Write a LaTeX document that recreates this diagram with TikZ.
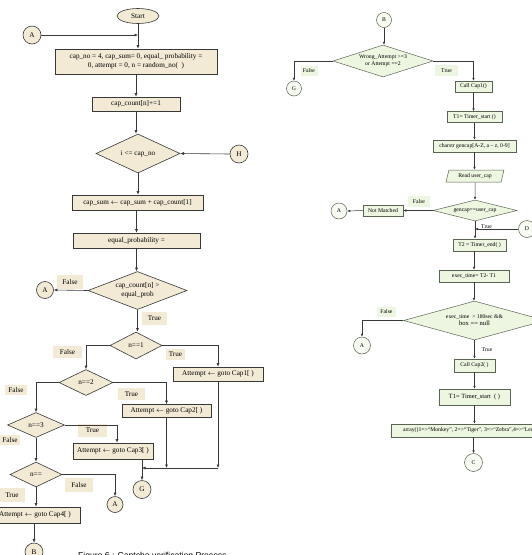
\documentclass[tikz,border=0pt]{standalone}
\usepackage{fontspec}
\setmainfont{Liberation Serif}
\newfontfamily\capfont{Liberation Sans}
\usetikzlibrary{shapes.geometric,arrows.meta,shadows}
\definecolor{beige}{HTML}{F2EAD5}
\definecolor{lgreen}{HTML}{EDF6E1}
\definecolor{lline}{HTML}{383838}
\definecolor{rline}{HTML}{5A6454}
\begin{document}
\begin{tikzpicture}[x=1pt,y=-1pt,
  lf/.style={font=\fontsize{7.2}{8.6}\selectfont},
  rf/.style={font=\fontsize{5.7}{6.8}\selectfont},
  lbox/.style={rectangle, draw=lline, fill=beige, line width=0.6pt, inner sep=0pt, lf, align=center,
     drop shadow={shadow xshift=0.9pt, shadow yshift=-0.9pt, fill=lline, opacity=1}},
  ldia/.style={diamond, draw=lline, fill=beige, line width=0.6pt, inner sep=0pt, lf, align=center},
  lcirc/.style={circle, draw=lline, fill=beige, line width=0.6pt, inner sep=0pt, lf},
  llab/.style={fill=beige, inner sep=0pt, lf},
  larr/.style={draw=lline, line width=0.6pt, -{Latex[length=3.5pt,width=3pt]}},
  rbox/.style={rectangle, draw=rline, fill=lgreen, line width=0.5pt, inner sep=0pt, rf, align=center},
  rdia/.style={diamond, draw=rline, fill=lgreen, line width=0.5pt, inner sep=0pt, rf, align=center},
  rcirc/.style={circle, draw=rline, fill=lgreen!50, line width=0.5pt, inner sep=0pt, rf},
  rlab/.style={fill=lgreen, inner sep=0pt, rf},
  rarr/.style={draw=lline, line width=0.5pt, -{Latex[length=3pt,width=2.6pt]}}
]
\useasboundingbox (0,0) rectangle (532,555);
\clip (0,0) rectangle (532,555);

% ---------------- left flowchart ----------------
\node[ellipse, draw=lline, fill=beige, line width=0.6pt, inner sep=0pt, minimum width=42pt, minimum height=15pt, lf] (start) at (138,16) {Start};
\node[lcirc, minimum size=18pt] (A1) at (32,35) {A};
\node[lbox, minimum width=162pt, minimum height=25pt] (b1) at (136,61.5) {cap\_no = 4, cap\_sum= 0, equal\_ probability =\\0, attempt = 0, n = random\_no(\ \ )};
\node[lbox, minimum width=88pt, minimum height=14pt] (b2) at (136,104) {cap\_count[n]+=1};
\node[ldia, minimum width=84pt, minimum height=39pt, aspect=2.1] (d1) at (138,153.5) {i <= cap\_no};
\node[lcirc, minimum size=18pt] (H) at (239,154) {H};
\node[lbox, minimum width=131pt, minimum height=15pt] (b3) at (137.5,202.5) {cap\_sum $\leftarrow$ cap\_sum + cap\_count[1]};
\node[lbox, minimum width=127pt, minimum height=15pt] (b4) at (136.5,240.5) {equal\_probability =};
\node[ldia, minimum width=99pt, minimum height=38pt, aspect=2.6] (d2) at (137.5,290.5) {cap\_count[n] >\\equal\_prob};
\node[lcirc, minimum size=17pt] (A2) at (45,290) {A};
\node[ldia, minimum width=52pt, minimum height=27pt, aspect=1.9] (d3) at (136,345.5) {n==1};
\node[lbox, minimum width=90pt, minimum height=14pt] (c1) at (218,374) {Attempt $\leftarrow$ goto Cap1[ )};
\node[ldia, minimum width=54pt, minimum height=26pt, aspect=2.1] (d4) at (86,382.5) {n==2};
\node[lbox, minimum width=89pt, minimum height=13pt] (c2) at (166.5,411) {Attempt $\leftarrow$ goto Cap2[ )};
\node[ldia, minimum width=57pt, minimum height=25pt, aspect=2.3] (d5) at (36,425) {n==3};
\node[lbox, minimum width=80pt, minimum height=16pt] (c3) at (113,451) {Attempt $\leftarrow$ goto Cap3[ )};
\node[ldia, minimum width=52pt, minimum height=25pt, aspect=2.1] (d6) at (36,474.5) {n==};
\node[lcirc, minimum size=16pt] (A3) at (115,504.5) {A};
\node[lbox, minimum width=90pt, minimum height=16pt] (c4) at (35,515) {Attempt $\leftarrow$ goto Cap4[ )};
\node[lcirc, minimum size=18pt] (Bc) at (34,552) {B};
\node[lcirc, minimum size=18pt] (G) at (142,489.5) {G};

% labels
\node[llab, minimum width=26pt, minimum height=14pt] (lF1) at (70,282) {False};
\node[llab, minimum width=25pt, minimum height=13pt] (lT1) at (154.5,318.5) {True};
\node[llab, minimum width=29pt, minimum height=12pt] (lF2) at (67.5,352) {False};
\node[llab, minimum width=19pt, minimum height=11pt] (lT2) at (175.5,354.5) {True};
\node[llab, minimum width=22pt, minimum height=10pt] (lF3) at (16,390) {False};
\node[llab, minimum width=27pt, minimum height=12pt] (lT3) at (131.5,394) {True};
\node[llab, minimum width=29pt, minimum height=13pt] (lT4) at (92.5,430.5) {True};
\node[llab, minimum width=20pt, minimum height=10pt] (lF4) at (10,440) {False};
\node[llab, minimum width=28pt, minimum height=14pt] (lF5) at (79,485) {False};
\node[llab, minimum width=25pt, minimum height=14pt] (lT5) at (12,495) {True};

% left connectors
\draw[larr] (A1.east) -- (A1.east -| start.south);
\draw[larr] (start.south) -- (b1.north -| start.south);
\draw[larr] (b1.south) -- (b2.north);
\draw[larr] (b2.south) -- (d1.north -| b2.south);
\draw[larr] (H.west) -- (d1.east);
\draw[larr] (d1.south) -- (b3.north -| d1.south);
\draw[larr] (b3.south -| b4.north) -- (b4.north);
\draw[larr] (b4.south) -- (d2.north -| b4.south);
\draw[larr] (d2.west) -- (A2.east);
\draw[larr] (d2.south) -- (d3.north -| d2.south);
\draw[larr] (d3.west) -| (d4.north);
\draw[larr] (d3.east) -| (c1.north);
\draw[larr] (d4.west) -| (d5.north);
\draw[larr] (d4.east) -| (c2.north);
\draw[larr] (d5.east) -| ([xshift=4pt]c3.north);
\draw[larr] (d5.south) -- (d6.north);
\draw[larr] (d6.east) -| (A3.north);
\draw[larr] (d6.south) -- (c4.north -| d6.south);
\draw[larr] (c4.south -| Bc.north) -- (Bc.north);
\coordinate (j1) at (218,468);
\coordinate (j2) at (166.5,468);
\coordinate (j3) at (142,468);
\draw[larr] (c1.south) -- (j1);
\draw[larr] (c2.south) -- (j2);
\draw[larr] (j1) -- (j3);
\draw[larr] (c3.south -| G.north) -- (G.north);

% ---------------- right flowchart ----------------
\node[rcirc, minimum size=15pt] (Bt) at (384,20) {B};
\node[rdia, minimum width=100pt, minimum height=32pt, aspect=3.1] (rd1) at (383,61) {Wrong\_Attempt >=3\\or Attempt ==2};
\node[rcirc, minimum size=15pt] (Gr) at (294,88.5) {G};
\node[rbox, minimum width=37pt, minimum height=11pt] (r1) at (473.5,86.5) {Call Cap1()};
\node[rbox, minimum width=55pt, minimum height=11pt] (r2) at (474.5,117) {T1= Timer\_start ()};
\node[rbox, minimum width=83pt, minimum height=12pt] (r3) at (474.5,146) {charstr gencap[A-Z, a – z, 0-9]};
\node[trapezium, trapezium left angle=70, trapezium right angle=110, trapezium stretches=true, draw=rline, fill=lgreen, line width=0.5pt, inner sep=0pt, rf, minimum width=58pt, minimum height=12pt] (r4) at (475,176) {Read user\_cap};
\node[rdia, minimum width=84pt, minimum height=21pt, aspect=4] (rd2) at (475,210.5) {gencap==user\_cap};
\node[rbox, minimum width=40pt, minimum height=11pt] (nm) at (383,210.5) {Not Matched};
\node[rcirc, minimum size=16pt] (Ar1) at (339,211) {A};
\node[rcirc, minimum size=17pt] (D) at (527,229) {D};
\node[rbox, minimum width=53pt, minimum height=12pt] (r5) at (479.5,245) {T2 = Timer\_end( )};
\node[rbox, minimum width=70pt, minimum height=12pt] (r6) at (474,276) {exec\_time= T2- T1};
\node[rdia, minimum width=142pt, minimum height=39pt, aspect=3.6] (rd3) at (474.5,320.5) {exec\_time\ \ > 180sec \&\&\\{\fontsize{6.6}{7.2}\selectfont box == null}};
\node[rcirc, minimum size=17pt] (Ar2) at (362,345.5) {A};
\node[rbox, minimum width=41pt, minimum height=13pt] (r7) at (474.5,365.5) {Call Cap2( )};
\node[rbox, minimum width=71pt, minimum height=16pt, font=\fontsize{6.4}{7}\selectfont] (r8) at (474.5,397) {T1= Timer\_start\ \ ( )};
\node[rbox, minimum width=166pt, minimum height=13pt] (r9) at (474,430.5) {\makebox[142pt][l]{array()1=>“Monkey”, 2=>“Tiger”, 3=>“Zebra”,4=>“Leo}};
\node[rcirc, minimum size=18pt] (C) at (473.5,462.5) {C};

% right labels
\node[rlab, minimum width=17pt, minimum height=10pt] (rF1) at (309,71) {False};
\node[rlab, minimum width=23pt, minimum height=11pt] (rT1) at (446.5,70.5) {True};
\node[rlab, minimum width=22pt, minimum height=11pt] (rF2) at (419,201.5) {False};
\node[inner sep=0pt, rf] (rT2) at (486.5,226.5) {True};
\node[rlab, minimum width=19pt, minimum height=10pt] (rF3) at (386.5,312) {False};
\node[inner sep=0pt, rf] (rT3) at (487,349.5) {True};

% right connectors
\draw[rarr] (Bt.south) -- (rd1.north -| Bt.south);
\draw[rarr] (rd1.west) -| (Gr.north);
\draw[rarr] (rd1.east) -| (r1.north);
\draw[rarr] (r1.south) -- (r2.north -| r1.south);
\draw[rarr] (r2.south) -- (r3.north);
\draw[rarr] (r3.south) -- (r4.north -| r3.south);
\draw[rarr] (r4.south) -- (rd2.north);
\draw[rarr] (rd2.west) -- (nm.east);
\draw[rarr] (nm.west) -- (Ar1.east);
\draw[rarr] (rd2.south) -- (rd2.south |- r5.north);
\draw[rarr] (D.west) -- (D.west -| rd2.south);
\draw[rarr] (r5.south -| r6.north) -- (r6.north);
\draw[rarr] (r6.south) -- (rd3.north -| r6.south);
\draw[rarr] (rd3.west) -| (Ar2.north);
\draw[rarr] (rd3.south) -- (r7.north -| rd3.south);
\draw[rarr] (r7.south) -- (r8.north);
\draw[rarr] (r8.south) -- (r9.north -| r8.south);
\draw[rarr] (r9.south -| C.north) -- (C.north);

% caption (cut by the lower edge, as in the reference)
\node[anchor=base west, inner sep=0pt, font=\capfont\fontsize{8.6}{10}\selectfont] (cap) at (78,558.5) {Figure 6 : Captcha verification Process};
\end{tikzpicture}
\end{document}
